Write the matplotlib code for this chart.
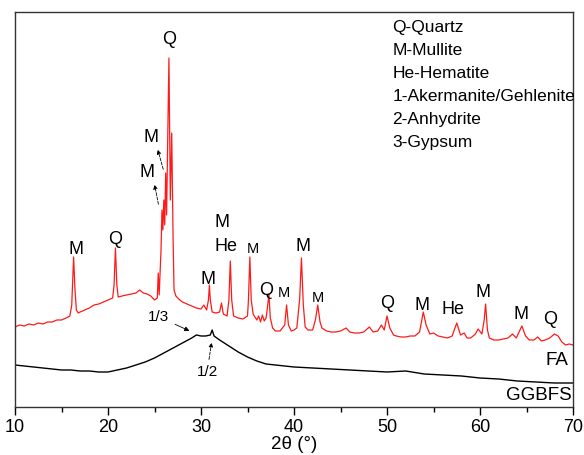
import matplotlib
matplotlib.use('Agg')
import matplotlib.pyplot as plt
from matplotlib.ticker import MultipleLocator

plt.rcParams['font.family'] = ['Liberation Sans', 'DejaVu Sans']

# FA pattern (2theta, a.u.)
fa_2theta = [10.0, 10.5, 11.0, 11.5, 12.0, 12.5, 13.0, 13.5, 14.0, 14.5, 15.0, 15.5, 15.9,
             16.1, 16.3, 16.45, 16.6, 16.8, 17.0, 17.5, 18.0, 18.5, 19.0, 19.5, 20.0, 20.5,
             20.65, 20.8, 20.95, 21.1, 21.5, 22.0, 22.5, 23.0, 23.4, 23.8, 24.2, 24.6, 25.0,
             25.3, 25.4, 25.5, 25.7, 25.8, 25.9, 26.0, 26.1, 26.2, 26.3, 26.45, 26.55, 26.7,
             26.85, 27.0, 27.1, 27.3, 27.6, 28.0, 28.5, 29.0, 29.5, 30.0, 30.3, 30.6, 30.8,
             30.9, 31.0, 31.2, 31.6, 32.0, 32.2, 32.4, 32.8, 33.0, 33.15, 33.3, 33.5, 34.0,
             34.5, 35.0, 35.1, 35.25, 35.4, 35.6, 36.0, 36.2, 36.4, 36.6, 36.8, 37.0, 37.2,
             37.3, 37.45, 37.7, 38.0, 38.5, 39.0, 39.2, 39.4, 39.7, 40.0, 40.3, 40.6, 40.8,
             41.0, 41.2, 41.5, 42.0, 42.3, 42.55, 42.8, 43.0, 43.5, 44.0, 44.5, 45.0, 45.6,
             46.0, 46.5, 47.0, 47.5, 48.1, 48.5, 49.0, 49.4, 49.7, 50.0, 50.3, 50.7, 51.0,
             51.5, 52.0, 52.5, 53.0, 53.5, 53.9, 54.2, 54.6, 55.0, 55.5, 56.0, 56.5, 57.0,
             57.5, 57.9, 58.3, 58.6, 59.0, 59.5, 59.8, 60.2, 60.45, 60.6, 60.8, 61.0, 61.5,
             62.0, 62.5, 63.0, 63.5, 63.9, 64.5, 64.9, 65.3, 65.8, 66.2, 66.6, 67.0, 67.5,
             68.0, 68.4, 68.8, 69.2, 69.6, 70.0]
fa_int = [80, 82, 81, 83, 82, 84, 83, 85, 85, 87, 87, 89, 91,
          102, 150, 117, 97, 94, 95, 97, 99, 102, 103, 105, 107, 109,
          122, 159, 122, 110, 111, 112, 113, 114, 117, 114, 113, 111, 107,
          109, 134, 112, 157, 197, 177, 207, 182, 234, 192, 287, 349, 207,
          274, 167, 117, 111, 108, 105, 103, 101, 99, 98, 102, 97, 107,
          122, 107, 95, 94, 95, 104, 93, 91, 107, 146, 107, 91, 89,
          88, 91, 107, 150, 107, 93, 87, 91, 85, 92, 86, 89, 104,
          113, 89, 79, 76, 76, 82, 102, 82, 76, 77, 79, 107, 149,
          102, 80, 77, 77, 87, 102, 85, 79, 76, 75, 75, 76, 79,
          75, 74, 74, 75, 80, 75, 76, 82, 77, 91, 79, 72, 71,
          70, 70, 71, 71, 75, 95, 82, 73, 74, 71, 70, 69, 71,
          84, 72, 74, 69, 69, 73, 78, 73, 87, 103, 77, 69, 67,
          67, 68, 69, 73, 69, 81, 71, 67, 67, 70, 66, 67, 69,
          73, 71, 65, 62, 63, 62]

# GGBFS pattern
gg_2theta = [10, 11, 12, 13, 14, 15, 16, 17, 18, 19, 20, 21, 22, 23, 24, 25, 26, 27, 28, 29,
             29.5, 30.0, 30.5, 31.0, 31.2, 31.4, 32, 33, 34, 35, 36, 37, 38, 39, 40, 42, 44,
             46, 48, 50, 52, 54, 56, 58, 60, 62, 64, 66, 68, 70]
gg_int = [42, 41, 40, 39, 38, 37, 37, 36, 36, 35, 35, 37, 39, 42, 45, 49, 54, 59, 64, 69,
          72, 71, 71, 72, 77, 71, 67, 61, 55, 50, 46, 43, 42, 41, 40, 39, 38,
          37, 36, 35, 36, 33, 32, 31, 29, 28, 26, 25, 24, 24]

# phase labels: (text, 2theta, a.u., fontsize)
peak_labels = [
    ('Q', 26.56, 368, 13), ('M', 24.62, 270, 13), ('M', 24.19, 235, 13),
    ('M', 16.56, 158, 13), ('Q', 20.75, 168, 13), ('M', 30.75, 128, 13),
    ('M', 32.26, 185, 13), ('He', 32.69, 161, 13), ('M', 35.59, 158, 10.5),
    ('Q', 36.99, 117, 13), ('M', 38.92, 114, 10.5), ('M', 40.97, 161, 13),
    ('M', 42.58, 109, 10.5), ('Q', 50.0, 104, 13), ('M', 53.76, 102, 13),
    ('He', 57.1, 98, 13), ('M', 60.32, 115, 13), ('M', 64.41, 93, 13),
    ('Q', 67.53, 88, 13),
]
legend_lines = ['Q-Quartz', 'M-Mullite', 'He-Hematite', '1-Akermanite/Gehlenite',
                '2-Anhydrite', '3-Gypsum']

fig = plt.figure(figsize=(5.84, 4.55), dpi=100)
ax = fig.add_axes([0.0257, 0.1055, 0.9555, 0.8681])

ax.plot(fa_2theta, fa_int, color='#ff1a1a', lw=0.9)
ax.plot(gg_2theta, gg_int, color='black', lw=1.0)

for txt, x, y, fs in peak_labels:
    ax.text(x, y, txt, fontsize=fs, ha='center', va='center')

dashed = dict(arrowstyle='-|>', linestyle='--', lw=0.6, color='black', mutation_scale=6)
ax.annotate('', xy=(25.27, 260), xytext=(26.02, 235), arrowprops=dashed)
ax.annotate('', xy=(24.95, 225), xytext=(25.48, 200), arrowprops=dashed)

solid = dict(arrowstyle='-|>', lw=0.6, color='black', mutation_scale=7)
ax.annotate('1/3', xy=(29.03, 75), xytext=(25.48, 90), fontsize=11,
            ha='center', va='center', arrowprops=solid)
ax.annotate('1/2', xy=(31.18, 67), xytext=(30.65, 35), fontsize=11,
            ha='center', va='center', arrowprops=dashed)

ax.text(68.28, 46, 'FA', fontsize=13.5, ha='center', va='center')
ax.text(66.34, 11, 'GGBFS', fontsize=13.5, ha='center', va='center')

for i, line in enumerate(legend_lines):
    ax.text(0.676, 0.962 - i * 0.0585, line, transform=ax.transAxes,
            fontsize=12.5, ha='left', va='center')

ax.set_xlim(10, 70)
ax.set_ylim(0, 395)
ax.set_yticks([])
ax.xaxis.set_major_locator(MultipleLocator(10))
ax.xaxis.set_minor_locator(MultipleLocator(5))
ax.tick_params(axis='x', which='major', length=6, width=1, labelsize=13, pad=3)
ax.tick_params(axis='x', which='minor', length=3.5, width=1)
for s in ax.spines.values():
    s.set_linewidth(1)
    s.set_color('#333333')
ax.set_xlabel('2\u03b8 (\u00b0)', fontsize=13.5, labelpad=0)

fig.savefig('out.png', dpi=100)
